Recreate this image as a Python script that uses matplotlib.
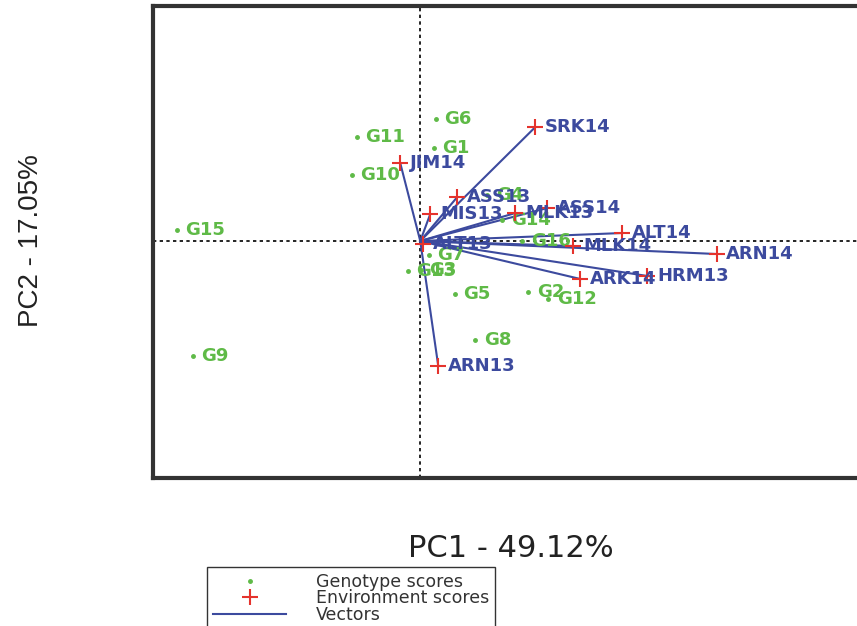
import matplotlib
matplotlib.use("Agg")
import matplotlib.pyplot as plt
from matplotlib.lines import Line2D

# genotype scores (PC1, PC2)
genotypes = ["G1", "G2", "G3", "G4", "G5", "G6", "G7", "G8",
             "G9", "G10", "G11", "G12", "G13", "G14", "G15", "G16"]
geno_pc1 = [0.14, 1.08, 0.01, 0.67, 0.35, 0.16, 0.09, 0.55,
            -2.27, -0.68, -0.63, 1.28, -0.12, 0.82, -2.43, 1.02]
geno_pc2 = [0.93, -0.51, -0.29, 0.46, -0.53, 1.22, -0.14, -0.99,
            -1.15, 0.66, 1.04, -0.58, -0.30, 0.21, 0.11, 0.00]

# environment scores (PC1, PC2)
environments = ["SRK14", "JIM14", "ASS13", "MIS13", "MLK13", "ASS14", "ALT14",
                "MLK14", "ARN14", "HRM13", "ARK14", "ARN13", "ALT13"]
env_pc1 = [1.15, -0.20, 0.37, 0.10, 0.95, 1.27, 2.02,
           1.53, 2.96, 2.27, 1.60, 0.18, 0.03]
env_pc2 = [1.14, 0.78, 0.44, 0.27, 0.28, 0.33, 0.08,
           -0.05, -0.13, -0.35, -0.38, -1.25, -0.03]

green = "#5fba47"
red = "#e5332d"
blue = "#3c4a9e"

fig = plt.figure(figsize=(8.57, 6.26), dpi=100)
ax = fig.add_axes([0.1785, 0.2364, 0.834, 0.754])

ax.axhline(0, color="black", lw=1.2, ls=(0, (2, 2)), zorder=1)
ax.axvline(0, color="black", lw=1.2, ls=(0, (2, 2)), zorder=1)

# vectors from the origin to each environment
for x, y in zip(env_pc1, env_pc2):
    ax.plot([0, x], [0, y], color=blue, lw=1.5, zorder=2)

ax.plot(geno_pc1, geno_pc2, "o", ms=2.5, color=green, zorder=3)
for name, x, y in zip(genotypes, geno_pc1, geno_pc2):
    ax.annotate(name, (x, y), xytext=(6, 0), textcoords="offset points",
                ha="left", va="center", color=green, fontsize=13,
                fontweight="bold", zorder=3)

ax.plot(env_pc1, env_pc2, "+", ms=11, mew=1.5, color=red, zorder=4)
for name, x, y in zip(environments, env_pc1, env_pc2):
    ax.annotate(name, (x, y), xytext=(7, 0), textcoords="offset points",
                ha="left", va="center", color=blue, fontsize=13,
                fontweight="bold", zorder=4)

ax.set_xlim(-2.67, 4.47)
ax.set_ylim(-2.37, 2.35)
ax.set_xticks([])
ax.set_yticks([])
for s in ax.spines.values():
    s.set_linewidth(3)
    s.set_color("#333333")

ax.set_xlabel("PC1 - 49.12%", fontsize=22, color="#222222")
ax.xaxis.set_label_coords(0.5, -0.118)
ax.set_ylabel("PC2 - 17.05%", fontsize=20, color="#222222",
              family=["Liberation Sans Narrow", "Liberation Sans"], va="center")
ax.yaxis.set_label_coords(-0.17, 0.504)

handles = [
    Line2D([], [], marker="o", ms=2.5, ls="none", color=green),
    Line2D([], [], marker="+", ms=11, mew=1.5, ls="none", color=red),
    Line2D([], [], color=blue, lw=1.5),
]
labels = ["Genotype scores", "Environment scores", "Vectors"]
fig.legend(handles, labels, loc="upper left",
           bbox_to_anchor=(207 / 857, 1 - 567 / 626), borderaxespad=0,
           fontsize=12.5, labelspacing=-0.1, handlelength=4.2,
           handletextpad=1.7, borderpad=0.35, fancybox=False,
           edgecolor="#333333", framealpha=1, labelcolor="#333333")

fig.savefig("out.png", dpi=100)
